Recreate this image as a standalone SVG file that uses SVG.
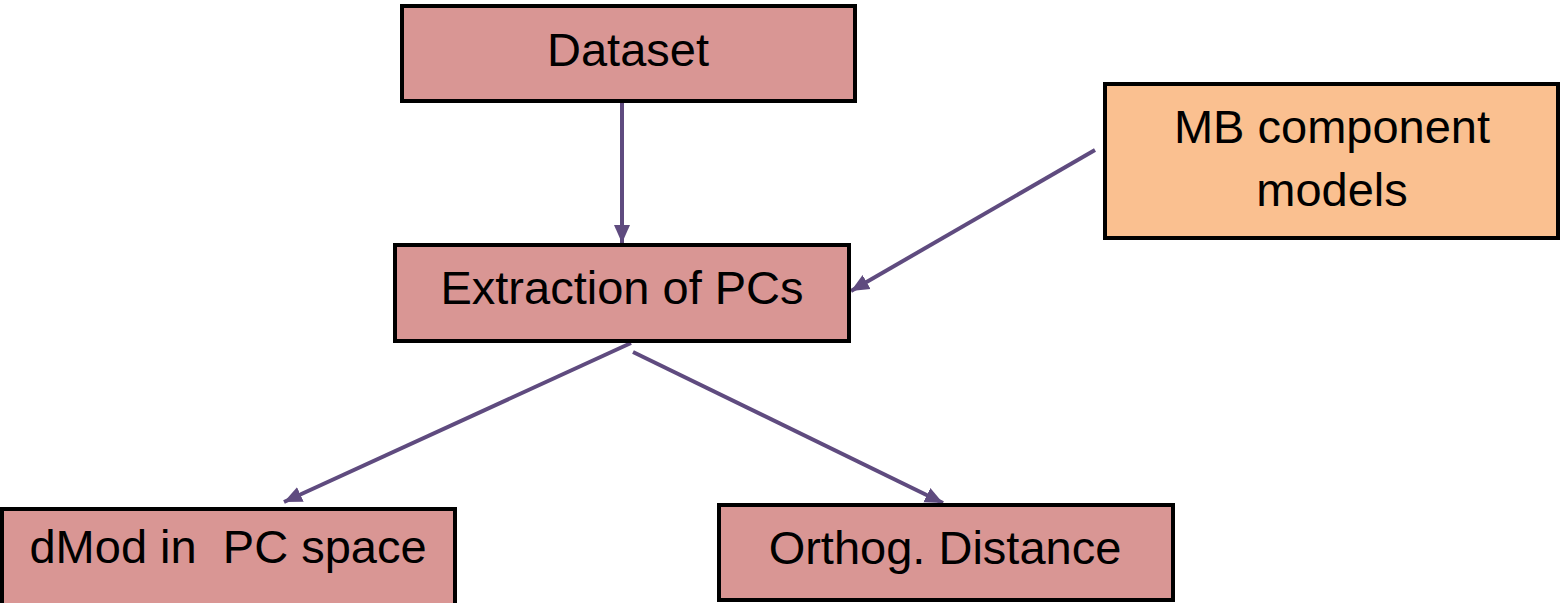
<svg xmlns="http://www.w3.org/2000/svg" width="1561" height="603" viewBox="0 0 1561 603">
<style>
.box{fill:#d99694;stroke:#000;stroke-width:4}
.orange{fill:#fac090;stroke:#000;stroke-width:4}
.lbl{font-family:"Liberation Sans",Arial,sans-serif;font-size:47px;fill:#000;text-anchor:middle;white-space:pre}
.conn{stroke:#5f4b7f;stroke-width:4;fill:none}
</style>
<defs>
<marker id="ah" markerUnits="userSpaceOnUse" markerWidth="20" markerHeight="20" viewBox="0 0 20 20" refX="18" refY="10" orient="auto">
<path d="M0,2 L18,10 L0,18 Z" fill="#5f4b7f"/>
</marker>
</defs>
<rect width="1561" height="603" fill="#fff"/>
<g id="connectors">
<line class="conn" x1="622" y1="103" x2="622" y2="243" marker-end="url(#ah)"/>
<line class="conn" x1="1095" y1="150" x2="851" y2="291" marker-end="url(#ah)"/>
<line class="conn" x1="631" y1="343" x2="284" y2="502" marker-end="url(#ah)"/>
<line class="conn" x1="633" y1="352" x2="943" y2="503" marker-end="url(#ah)"/>
</g>
<g id="dataset">
<rect class="box" x="402" y="6" width="453" height="95"/>
<text class="lbl" x="628" y="66">Dataset</text>
</g>
<g id="mb">
<rect class="orange" x="1105" y="84" width="453" height="154"/>
<text class="lbl" x="1332" y="143">MB component</text>
<text class="lbl" x="1332" y="206">models</text>
</g>
<g id="extraction">
<rect class="box" x="395" y="245" width="454" height="96"/>
<text class="lbl" x="622" y="304">Extraction of PCs</text>
</g>
<g id="dmod">
<rect class="box" x="2" y="509" width="453" height="100"/>
<text class="lbl" x="228" y="563">dMod in  PC space</text>
</g>
<g id="orthog">
<rect class="box" x="719" y="505" width="454" height="95"/>
<text class="lbl" x="945" y="564">Orthog. Distance</text>
</g>
</svg>
